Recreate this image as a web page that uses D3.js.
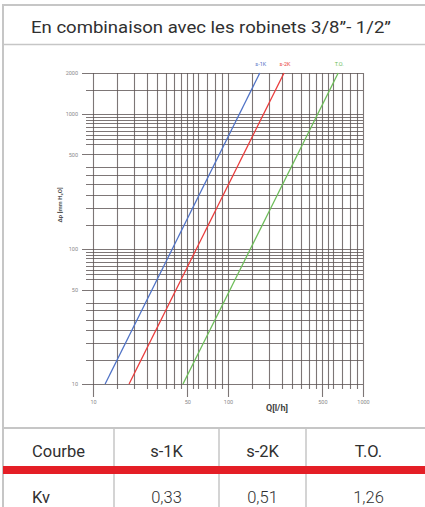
<!DOCTYPE html>
<html><head><meta charset="utf-8">
<script src="https://cdn.jsdelivr.net/npm/d3@7/dist/d3.min.js"></script>
<style>body{margin:0;background:#fff}svg{display:block}text{font-family:Roboto,"Open Sans",sans-serif}</style>
</head><body><svg id="c" width="425" height="507"></svg>
<script>
// ---- data ----
const titleText = "En combinaison avec les robinets 3/8\u201D- 1/2\u201D";
const seriesNames = ["s-1K", "s-2K", "T.O."];
const flowS1K = [12.3, 172];   const dpS1K = [10, 2000];
const flowS2K = [18.5, 260];   const dpS2K = [10, 2000];
const flowTO  = [46.4, 655];   const dpTO  = [10, 2000];
const kvValues = ["0,33", "0,51", "1,26"];
const xTickValues = [10, 50, 100, 500, 1000];
const yTickValues = [10, 50, 100, 500, 1000, 2000];
const xGridMult = [1, 1.5, 2, 2.5, 3, 3.5, 4, 4.5, 5, 5.5, 6, 7, 8, 9];
const yGridMult = [1, 1.5, 2, 2.5, 3, 3.5, 4, 5, 6, 6.5, 7, 7.5, 8, 8.5, 9, 9.5];
const tableHeader = ["Courbe", "s-1K", "s-2K", "T.O."];
const tableRowLabel = "Kv";

// ---- layout ----
const svg = d3.select("#c");
svg.append("rect").attr("width", 425).attr("height", 507).attr("fill", "#fff");
const border = "#c6c6c6";
const x = d3.scaleLog().domain([10, 1000]).range([93, 363]);
const y = d3.scaleLog().domain([10, 2000]).range([384, 73]);

// frame
svg.append("line").attr("x1", 3).attr("x2", 3).attr("y1", 4).attr("y2", 507).attr("stroke", border).attr("stroke-width", 2);
svg.append("line").attr("x1", 2).attr("x2", 425).attr("y1", 5).attr("y2", 5).attr("stroke", border).attr("stroke-width", 2);
svg.append("line").attr("x1", 3).attr("x2", 425).attr("y1", 44.5).attr("y2", 44.5).attr("stroke", border).attr("stroke-width", 1.5);
svg.append("text").attr("x", 211).attr("y", 33).attr("text-anchor", "middle")
  .attr("font-size", 17).attr("fill", "#303030").attr("textLength", 360).attr("lengthAdjust", "spacingAndGlyphs")
  .text(titleText);

// grid
const g = svg.append("g");
const xGrid = [];
[10, 100].forEach(d => xGridMult.forEach(m => xGrid.push(d * m)));
xGrid.push(1000);
const yGrid = [];
[10, 100].forEach(d => yGridMult.forEach(m => yGrid.push(d * m)));
yGrid.push(1000, 1500, 2000);
const gridCol = "#5c5454";
g.selectAll("line.v").data(xGrid).join("line").attr("class", "v")
  .attr("x1", d => Math.round(x(d)) + 0.5).attr("x2", d => Math.round(x(d)) + 0.5)
  .attr("y1", y(2000)).attr("y2", d => xTickValues.includes(d) ? 397 : 389)
  .attr("stroke", gridCol).attr("stroke-width", 1.1).attr("stroke-opacity", 0.8);
g.selectAll("line.h").data(yGrid).join("line").attr("class", "h")
  .attr("y1", d => Math.round(y(d)) + 0.5).attr("y2", d => Math.round(y(d)) + 0.5)
  .attr("x1", d => yTickValues.includes(d) ? 82 : 86).attr("x2", x(1000))
  .attr("stroke", gridCol).attr("stroke-width", 1.1).attr("stroke-opacity", 0.8);

// axes labels via d3 axes
const ya = svg.append("g").attr("transform", "translate(80,0)")
  .call(d3.axisLeft(y).tickValues(yTickValues).tickSize(0).tickPadding(2).tickFormat(d3.format("d")));
ya.select(".domain").remove();
ya.selectAll("text").attr("font-size", 5.5).attr("fill", "#8a8a8a").attr("font-family", "Roboto");
const xa = svg.append("g").attr("transform", "translate(0,400)")
  .call(d3.axisBottom(x).tickValues(xTickValues).tickSize(0).tickPadding(0).tickFormat(d3.format("d")));
xa.select(".domain").remove();
xa.selectAll("text").attr("font-size", 5.5).attr("fill", "#8a8a8a").attr("font-family", "Roboto");

svg.append("text").attr("x", 277).attr("y", 411).attr("text-anchor", "middle")
  .attr("font-size", 9).attr("font-weight", "bold").attr("fill", "#444").text("Q[l/h]");
svg.append("text").attr("transform", "translate(62,205) rotate(-90)").attr("text-anchor", "middle")
  .attr("font-size", 6).attr("font-weight", "bold").attr("fill", "#555").text("\u0394p [mm H\u2082O]");

// curves
const seriesData = [
  {name: seriesNames[0], q: flowS1K, dp: dpS1K, color: "#4f72c6"},
  {name: seriesNames[1], q: flowS2K, dp: dpS2K, color: "#ea3b3b"},
  {name: seriesNames[2], q: flowTO,  dp: dpTO,  color: "#6cbd58"}
];
const line = d3.line().x(p => x(p[0])).y(p => y(p[1]));
seriesData.forEach(s => {
  const pts = s.q.map((q, i) => [q, s.dp[i]]);
  svg.append("path").attr("d", line(pts)).attr("fill", "none").attr("stroke", s.color).attr("stroke-width", 1.3);
  svg.append("text").attr("x", x(s.q[1]) + 1).attr("y", 66).attr("text-anchor", "middle")
    .attr("font-size", 5.5).attr("fill", s.color).text(s.name);
});

// table
svg.append("line").attr("x1", 3).attr("x2", 425).attr("y1", 428).attr("y2", 428).attr("stroke", border).attr("stroke-width", 2);
const colEdges = [3, 114, 219, 306, 431];
[114, 219, 306].forEach(cx => svg.append("line").attr("x1", cx).attr("x2", cx).attr("y1", 428).attr("y2", 507)
  .attr("stroke", border).attr("stroke-width", 1.5));
svg.append("rect").attr("x", 3).attr("y", 466).attr("width", 422).attr("height", 8).attr("fill", "#e41e26");
tableHeader.forEach((t, i) => {
  svg.append("text").attr("x", (colEdges[i] + colEdges[i + 1]) / 2).attr("y", 457).attr("text-anchor", "middle")
    .attr("font-size", 16.5).attr("fill", "#303030").text(t);
});
svg.append("text").attr("x", 32).attr("y", 503).attr("font-size", 16.5).attr("fill", "#303030").text(tableRowLabel);
kvValues.forEach((t, i) => {
  svg.append("text").attr("x", (colEdges[i + 1] + colEdges[i + 2]) / 2).attr("y", 503).attr("text-anchor", "middle")
    .attr("font-size", 16.5).attr("font-weight", 300).attr("fill", "#303030").text(t);
});
</script></body></html>
